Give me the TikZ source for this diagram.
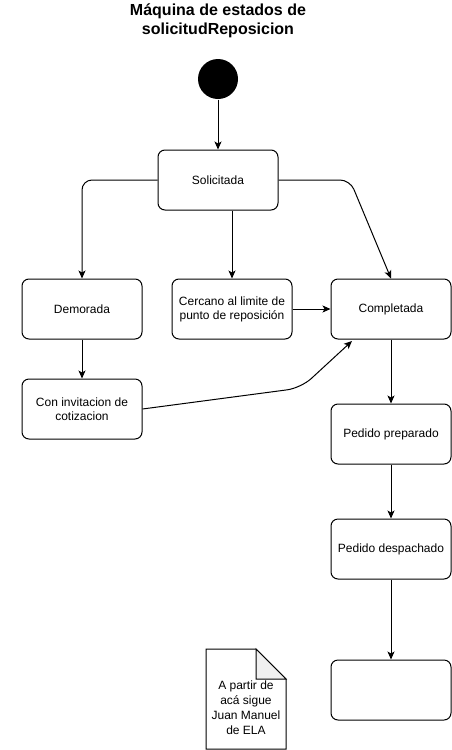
\documentclass[tikz,border=0pt]{standalone}
\usepackage{fontspec}
\setmainfont{Liberation Sans}
\usetikzlibrary{arrows.meta}
\begin{document}
\begin{tikzpicture}[x=1pt,y=-1pt,line width=1pt,
    state/.style={draw,rounded corners=7pt,minimum width=120pt,minimum height=60pt,
      align=center,font=\fontsize{12}{14}\selectfont,inner sep=2pt},
    trans/.style={-{Stealth[length=8pt,width=7pt,inset=2pt]}}]
  \useasboundingbox (0,0) rectangle (452,750);
  \node [align=center,font=\fontsize{16}{19}\selectfont\bfseries] (title) at (218,21)
    {Máquina de estados de\\solicitudReposicion};
  \node [circle,fill,minimum size=40pt,inner sep=0pt] (init) at (218,79) {};
  \node [state] (sol) at (218,180) {Solicitada};
  \node [state] (dem) at (82,309) {Demorada};
  \node [state] (cer) at (232,309) {Cercano al limite de\\punto de reposición};
  \node [state] (com) at (391,309) {Completada};
  \node [state] (inv) at (82,409) {Con invitacion de\\cotizacion};
  \node [state] (pre) at (391,434) {Pedido preparado};
  \node [state] (des) at (391,549) {Pedido despachado};
  \node [state] (fin) at (391,690) {};
  \coordinate (bendr) at (350,180);
  \coordinate (bendi) at (301,388);
  \coordinate (tocom) at (352,341);
  \draw [trans] (init) -- (sol);
  \draw [trans,rounded corners=10pt] (sol.west) -| (dem.north);
  \draw [trans] (cer.north |- sol.south) -- (cer.north);
  \draw [trans,rounded corners=10pt] (sol.east) -- (bendr) -- (com.north);
  \draw [trans] (cer) -- (com);
  \draw [trans] (dem) -- (inv);
  \draw [trans,rounded corners=14pt] (inv.east) -- (bendi) -- (tocom);
  \draw [trans] (com) -- (pre);
  \draw [trans] (pre) -- (des);
  \draw [trans] (des) -- (fin);
  % nota
  \draw (206,649) coordinate (n1) -- (256,649) coordinate (n2) -- (286,679) coordinate (n3)
    -- (286,749) -- (206,749) -- cycle;
  \filldraw [fill=black!6] (n2) -- (256,679) -- (n3) -- cycle;
  \node [align=center,font=\fontsize{12}{15}\selectfont] (nota) at (246,708)
    {A partir de\\acá sigue\\Juan Manuel\\de ELA};
\end{tikzpicture}
\end{document}
